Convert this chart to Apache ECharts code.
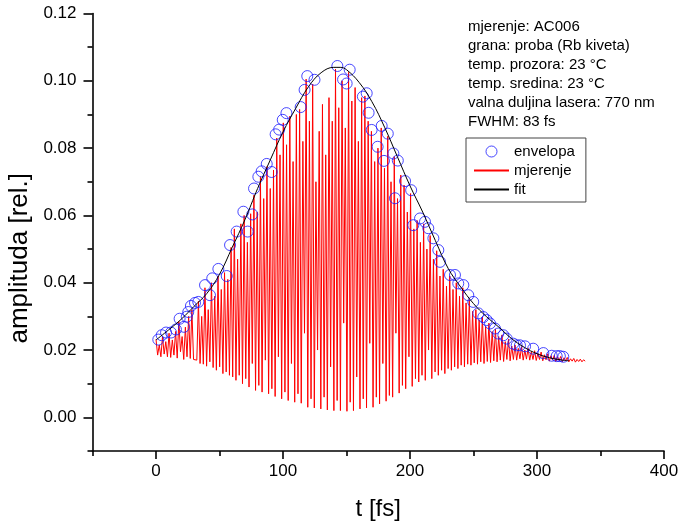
<!DOCTYPE html>
<html>
<head>
<meta charset="utf-8">
<script src="https://cdn.jsdelivr.net/npm/echarts@6/dist/echarts.min.js"></script>
<style>
  html, body { margin: 0; padding: 0; background: #ffffff; }
  #chart { width: 679px; height: 521px; }
</style>
</head>
<body>
<div id="chart"></div>
<script>
// Interferometric autocorrelation of a 770 nm pulse: measured fringes,
// their upper envelope and a fitted envelope curve.

const fontFamily = '"Liberation Sans", Arial, Helvetica, sans-serif';

// axis ticks
const xMajorTicks = [0, 100, 200, 300, 400];
const xMinorTicks = [-50, 50, 150, 250, 350];
const yMajorTicks = [0, 0.02, 0.04, 0.06, 0.08, 0.10, 0.12];
const yMinorTicks = [-0.01, 0.01, 0.03, 0.05, 0.07, 0.09, 0.11];

// measurement notes
const infoLines = [
  'mjerenje: AC006',
  'grana: proba (Rb kiveta)',
  'temp. prozora: 23 \u00B0C',
  'temp. sredina: 23 \u00B0C',
  'valna duljina lasera: 770 nm',
  'FWHM: 83 fs'
];

// series names
const seriesNames = ['envelopa', 'mjerenje', 'fit'];

// one optical fringe at 770 nm lasts about 2.57 fs; each fringe gives a maximum and a minimum
const fringeStep = 2.57;
const fringeMax = [
  0.0232, 0.0215, 0.0240, 0.0225, 0.0250, 0.0230, 0.0255, 0.0285, 0.0240, 0.0268,
  0.0300, 0.0320, 0.0172, 0.0345, 0.0300, 0.0385, 0.0320, 0.0400, 0.0360, 0.0420,
  0.0380, 0.0430, 0.0410, 0.0505, 0.0560, 0.0470, 0.0575, 0.0600, 0.0520, 0.0605,
  0.0660, 0.0610, 0.0715, 0.0650, 0.0745, 0.0680, 0.0735, 0.0830, 0.0780, 0.0875,
  0.0810, 0.0895, 0.0760, 0.0900, 0.0915, 0.0820, 0.1005, 0.0880, 0.0990, 0.0700,
  0.0850, 0.0930, 0.0780, 0.0950, 0.0880, 0.1035, 0.0920, 0.1000, 0.0860, 0.1025,
  0.0940, 0.0980, 0.0820, 0.0950, 0.0955, 0.0880, 0.0850, 0.0760, 0.0800, 0.0860,
  0.0740, 0.0835, 0.0700, 0.0775, 0.0650, 0.0720, 0.0690, 0.0610, 0.0665, 0.0560,
  0.0585, 0.0520, 0.0575, 0.0500, 0.0540, 0.0470, 0.0495, 0.0420, 0.0440, 0.0390,
  0.0420, 0.0380, 0.0400, 0.0360, 0.0385, 0.0340, 0.0350, 0.0315, 0.0320, 0.0290,
  0.0298, 0.0270, 0.0280, 0.0255, 0.0262, 0.0240, 0.0245, 0.0225, 0.0232, 0.0212,
  0.0215, 0.0205, 0.0210, 0.0200, 0.0205, 0.0195, 0.0198, 0.0190, 0.0194, 0.0186,
  0.0189, 0.0183, 0.0184, 0.0180, 0.0181, 0.0177, 0.0178, 0.0174, 0.0175, 0.0172,
  0.0173, 0.0171
];
const fringeMin = [
  0.0185, 0.0180, 0.0188, 0.0180, 0.0178, 0.0185, 0.0176, 0.0195, 0.0172, 0.0180,
  0.0175, 0.0172, 0.0170, 0.0160, 0.0158, 0.0152, 0.0165, 0.0148, 0.0140, 0.0150,
  0.0130, 0.0135, 0.0125, 0.0120, 0.0110, 0.0125, 0.0100, 0.0115, 0.0090, 0.0160,
  0.0080, 0.0095, 0.0075, 0.0170, 0.0070, 0.0085, 0.0062, 0.0180, 0.0055, 0.0075,
  0.0050, 0.0160, 0.0045, 0.0070, 0.0042, 0.0250, 0.0030, 0.0055, 0.0028, 0.0200,
  0.0025, 0.0060, 0.0022, 0.0150, 0.0020, 0.0050, 0.0020, 0.0280, 0.0018, 0.0045,
  0.0020, 0.0120, 0.0025, 0.0055, 0.0028, 0.0220, 0.0030, 0.0060, 0.0040, 0.0160,
  0.0048, 0.0065, 0.0060, 0.0250, 0.0072, 0.0095, 0.0085, 0.0180, 0.0092, 0.0115,
  0.0105, 0.0125, 0.0110, 0.0200, 0.0115, 0.0135, 0.0125, 0.0140, 0.0130, 0.0145,
  0.0140, 0.0150, 0.0145, 0.0155, 0.0150, 0.0158, 0.0155, 0.0162, 0.0158, 0.0165,
  0.0160, 0.0166, 0.0163, 0.0168, 0.0165, 0.0170, 0.0166, 0.0172, 0.0168, 0.0172,
  0.0170, 0.0174, 0.0170, 0.0173, 0.0170, 0.0172, 0.0169, 0.0172, 0.0168, 0.0171,
  0.0167, 0.0170, 0.0166, 0.0169, 0.0165, 0.0168, 0.0165, 0.0167, 0.0164, 0.0166,
  0.0165, 0.0167
];

// upper envelope points picked from the fringe maxima
const envelopeT = [
  1.8, 4.5, 7.9, 11.8, 15.7, 18.6, 22.0, 24.2, 25.4, 27.5,
  30.7, 33.3, 38.6, 42.5, 44.3, 49.1, 55.7, 58.3, 63.5, 68.8,
  72.2, 75.8, 77.2, 80.6, 83.2, 87.2, 91.1, 94.2, 97.0, 99.8,
  102.7, 113.9, 117.0, 119.1, 124.8, 142.8, 147.3, 150.1, 152.5, 162.9,
  165.9, 167.4, 169.8, 174.5, 177.7, 179.5, 182.5, 186.9, 188.2, 190.4,
  196.1, 200.9, 202.6, 207.9, 211.8, 214.4, 218.4, 222.3, 223.6, 231.5,
  235.4, 238.0, 242.0, 245.9, 249.8, 253.8, 257.7, 260.4, 263.0, 266.9,
  269.5, 273.5, 276.1, 281.3, 284.0, 286.6, 290.6, 297.0, 305.0, 311.6,
  315.5, 318.0, 320.7
];
const envelopeV = [
  0.0231, 0.0244, 0.0252, 0.0252, 0.0261, 0.0293, 0.0269, 0.0299, 0.0313, 0.0331,
  0.0340, 0.0343, 0.0393, 0.0363, 0.0413, 0.0441, 0.0420, 0.0512, 0.0552, 0.0611,
  0.0552, 0.0603, 0.0680, 0.0715, 0.0731, 0.0753, 0.0729, 0.0841, 0.0855, 0.0884,
  0.0904, 0.0922, 0.0973, 0.1014, 0.1003, 0.1044, 0.1004, 0.0992, 0.1033, 0.0953,
  0.0963, 0.0905, 0.0854, 0.0804, 0.0866, 0.0762, 0.0843, 0.0784, 0.0651, 0.0763,
  0.0702, 0.0675, 0.0571, 0.0591, 0.0581, 0.0562, 0.0532, 0.0497, 0.0462, 0.0423,
  0.0423, 0.0398, 0.0393, 0.0363, 0.0343, 0.0309, 0.0298, 0.0289, 0.0279, 0.0264,
  0.0249, 0.0244, 0.0234, 0.0219, 0.0214, 0.0214, 0.0211, 0.0204, 0.0191, 0.0183,
  0.0182, 0.0182, 0.0180
];

// fitted envelope
const fitT = [
  0, 10, 20, 30, 40, 50, 60, 70, 80, 90,
  100, 110, 120, 130, 140, 145, 150, 160, 170, 180,
  190, 200, 210, 220, 230, 240, 250, 260, 270, 280,
  290, 300, 310, 320, 325
];
const fitV = [
  0.0230, 0.0260, 0.0292, 0.0330, 0.0368, 0.0425, 0.0505, 0.0587, 0.0680, 0.0765,
  0.0848, 0.0918, 0.0982, 0.1024, 0.1040, 0.1040, 0.1033, 0.0995, 0.0938, 0.0862,
  0.0775, 0.0688, 0.0610, 0.0525, 0.0443, 0.0387, 0.0338, 0.0300, 0.0268, 0.0234,
  0.0208, 0.0189, 0.0177, 0.0170, 0.0168
];

// interleave maxima and minima onto the time axis
const measuredData = [];
for (let i = 0; i < fringeMax.length; i++) {
  measuredData.push([i * fringeStep, fringeMax[i]]);
  measuredData.push([i * fringeStep + fringeStep / 2, fringeMin[i]]);
}
const envelopeData = envelopeT.map((t, i) => [t, envelopeV[i]]);
const fitData = fitT.map((t, i) => [t, fitV[i]]);

const axisColor = '#000000';
const chart = echarts.init(document.getElementById('chart'), null, { renderer: 'canvas' });

chart.setOption({
  animation: false,
  backgroundColor: '#ffffff',
  textStyle: { fontFamily: fontFamily },
  grid: { left: 92.5, right: 15, top: 13.5, bottom: 70, containLabel: false, outerBoundsMode: 'none' },
  xAxis: [
    {
      type: 'value', min: -50, max: 400,
      name: 't [fs]', nameLocation: 'middle', nameGap: 46,
      nameTextStyle: { fontSize: 24, color: '#000', fontFamily: fontFamily },
      axisLine: { show: true, onZero: false, lineStyle: { color: axisColor, width: 1.6 } },
      axisTick: { show: true, length: 8, customValues: xMajorTicks, lineStyle: { color: axisColor, width: 1.6 } },
      axisLabel: { show: true, customValues: xMajorTicks, margin: 12, fontSize: 17, color: '#000', fontFamily: fontFamily },
      splitLine: { show: false }
    },
    {
      type: 'value', min: -50, max: 400, position: 'bottom',
      axisLine: { show: false, onZero: false },
      axisTick: { show: true, length: 5, customValues: xMinorTicks, lineStyle: { color: axisColor, width: 1.6 } },
      axisLabel: { show: false },
      splitLine: { show: false }
    }
  ],
  yAxis: [
    {
      type: 'value', min: -0.01, max: 0.12,
      name: 'amplituda [rel.]', nameLocation: 'middle', nameGap: 57, nameRotate: 90,
      nameTextStyle: { fontSize: 26, color: '#000', fontFamily: fontFamily, padding: [0, 52, 0, 0] },
      axisLine: { show: true, onZero: false, lineStyle: { color: axisColor, width: 1.6 } },
      axisTick: { show: true, length: 9, customValues: yMajorTicks, lineStyle: { color: axisColor, width: 1.6 } },
      axisLabel: {
        show: true, customValues: yMajorTicks, margin: 16, fontSize: 17, color: '#000', fontFamily: fontFamily,
        formatter: v => v.toFixed(2)
      },
      splitLine: { show: false }
    },
    {
      type: 'value', min: -0.01, max: 0.12, position: 'left',
      axisLine: { show: false, onZero: false },
      axisTick: { show: true, length: 5, customValues: yMinorTicks, lineStyle: { color: axisColor, width: 1.6 } },
      axisLabel: { show: false },
      splitLine: { show: false }
    }
  ],
  legend: {
    orient: 'vertical',
    left: 466, top: 138,
    padding: [6, 11, 5, 7],
    itemWidth: 35, itemHeight: 11, itemGap: 4,
    borderColor: '#444', borderWidth: 1,
    selectedMode: false,
    textStyle: { fontSize: 15, color: '#000', fontFamily: fontFamily },
    data: [
      { name: seriesNames[0], icon: 'circle', itemStyle: { color: 'transparent', borderColor: '#1a1aff', borderWidth: 1 } },
      { name: seriesNames[1], itemStyle: { opacity: 0 } },
      { name: seriesNames[2], itemStyle: { opacity: 0 } }
    ]
  },
  graphic: [
    {
      type: 'text', left: 468, top: 17,
      style: {
        text: infoLines.join('\n'),
        font: '15px ' + fontFamily,
        lineHeight: 19,
        fill: '#000'
      }
    }
  ],
  series: [
    {
      name: seriesNames[1], type: 'line', data: measuredData,
      symbol: 'none', showSymbol: false, sampling: null,
      lineStyle: { color: '#ff0000', width: 1 },
      itemStyle: { color: '#ff0000' },
      z: 2
    },
    {
      name: seriesNames[0], type: 'scatter', data: envelopeData,
      symbol: 'circle', symbolSize: 11,
      itemStyle: { color: 'transparent', borderColor: '#1a1aff', borderWidth: 1 },
      z: 3
    },
    {
      name: seriesNames[2], type: 'line', data: fitData,
      symbol: 'none', showSymbol: false, smooth: 0.4,
      lineStyle: { color: '#000000', width: 1 },
      itemStyle: { color: '#000000' },
      z: 4
    }
  ]
});
</script>
</body>
</html>
